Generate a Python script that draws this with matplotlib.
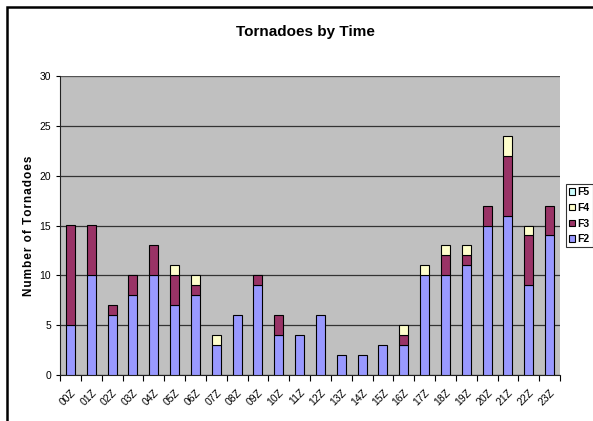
import matplotlib.pyplot as plt
import numpy as np
from matplotlib.patches import Rectangle

plt.rcParams['font.family'] = ['Liberation Sans', 'DejaVu Sans']

hours = ["00Z", "01Z", "02Z", "03Z", "04Z", "05Z", "06Z", "07Z", "08Z", "09Z", "10Z", "11Z",
         "12Z", "13Z", "14Z", "15Z", "16Z", "17Z", "18Z", "19Z", "20Z", "21Z", "22Z", "23Z"]
f2 = [5, 10, 6, 8, 10, 7, 8, 3, 6, 9, 4, 4, 6, 2, 2, 3, 3, 10, 10, 11, 15, 16, 9, 14]
f3 = [10, 5, 1, 2, 3, 3, 1, 0, 0, 1, 2, 0, 0, 0, 0, 0, 1, 0, 2, 1, 2, 6, 5, 3]
f4 = [0, 0, 0, 0, 0, 1, 1, 1, 0, 0, 0, 0, 0, 0, 0, 0, 1, 1, 1, 1, 0, 2, 1, 0]
f5 = [0] * 24

colors = {"F2": "#9999FF", "F3": "#993366", "F4": "#FFFFCC", "F5": "#CCFFFF"}

fig = plt.figure(figsize=(5.93, 4.21), dpi=100)
# chart border, cut off at the right and bottom like the source image
fig.patches.append(Rectangle((7 / 593, -1.0), 3.0, 2.0 - 7 / 421,
                             transform=fig.transFigure, fill=False, edgecolor='black',
                             linewidth=1.8))

ax = fig.add_axes([60 / 593, 46 / 421, 500 / 593, 299 / 421])
ax.set_facecolor('#C0C0C0')

x = np.arange(len(hours))
w = 0.43
bottom = np.zeros(len(hours))
handles = {}
for name, vals in [("F2", f2), ("F3", f3), ("F4", f4), ("F5", f5)]:
    vals = np.array(vals)
    mask = vals > 0
    ax.bar(x[mask], vals[mask], w, bottom=bottom[mask], color=colors[name],
           edgecolor='black', linewidth=0.8, zorder=3)
    handles[name] = Rectangle((0, 0), 1, 1, facecolor=colors[name], edgecolor='black',
                              linewidth=0.8)
    bottom += vals

ax.set_ylim(0, 30)
ax.set_xlim(-0.5, 23.5)
ax.set_yticks(range(0, 31, 5))
ax.yaxis.grid(True, color='#333333', linewidth=0.9, zorder=1)
ax.set_axisbelow(True)
ax.tick_params(axis='y', labelsize=7.5, length=3, width=0.8, direction='out', pad=3.5)

ax.set_xticks(x)
ax.set_xticklabels(hours, rotation=45, ha='right', rotation_mode='anchor', fontsize=7.5)
ax.tick_params(axis='x', which='major', length=0, pad=9)
ax.set_xticks(np.arange(-0.5, 24, 1), minor=True)
ax.tick_params(axis='x', which='minor', length=4, width=0.8, direction='out')

for s in ['top', 'right']:
    ax.spines[s].set_visible(False)
ax.spines['left'].set_color('#222222')
ax.spines['bottom'].set_color('#222222')
ax.axhline(30, color='#555555', linewidth=1.4, zorder=2)

ylab = "\u200a".join("Number of Tornadoes")
ax.set_ylabel(ylab, fontsize=8.5, fontweight='bold', labelpad=3)

fig.text(305 / 593, 1 - 32 / 421, "Tornadoes by Time", ha='center', va='center',
         fontsize=11, fontweight='bold')

leg = fig.legend([handles[k] for k in ["F5", "F4", "F3", "F2"]], ["F5", "F4", "F3", "F2"],
                 loc='upper left', bbox_to_anchor=(566 / 593, 1 - 184 / 421),
                 frameon=True, fancybox=False, edgecolor='black',
                 prop={'weight': 'bold', 'size': 7.5}, handlelength=0.6, handleheight=0.6,
                 handletextpad=0.2, borderpad=0.3, labelspacing=0.55, borderaxespad=0)
leg.get_frame().set_linewidth(0.8)

fig.savefig("out.png", dpi=100)
